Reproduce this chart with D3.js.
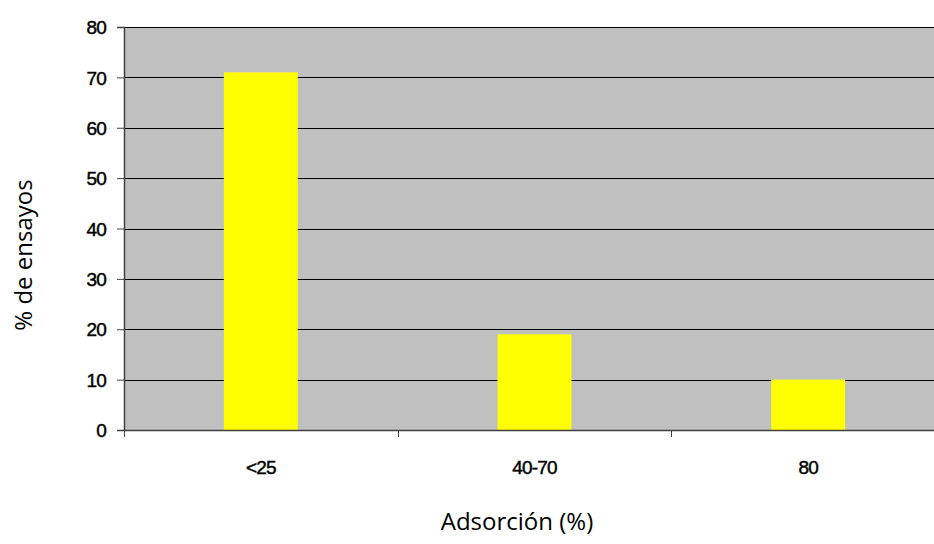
<!DOCTYPE html>
<html><head><meta charset="utf-8">
<script src="https://cdn.jsdelivr.net/npm/d3@7"></script>
<style>body{margin:0;background:#fff}</style>
</head><body>
<svg id="c" width="934" height="544"></svg>
<script>
const categories = ["<25", "40-70", "80"];
const values = [71, 19, 10];
const yTicks = [0, 10, 20, 30, 40, 50, 60, 70, 80];

const svg = d3.select("#c");
const mLeft = 124, mTop = 27, mBottom = 430, mRight = 945;
const x = d3.scaleBand().domain(categories).range([mLeft, mRight]).paddingInner(0).paddingOuter(0);
const y = d3.scaleLinear().domain([0, 80]).range([mBottom, mTop]);
const font = "'Liberation Sans', Arial, sans-serif";
const tfont = "'Open Sans', 'Noto Sans', sans-serif";

svg.append("rect").attr("x", mLeft).attr("y", mTop).attr("width", mRight - mLeft).attr("height", mBottom - mTop).attr("fill", "#c0c0c0");

// gridlines
svg.append("g").selectAll("line").data(yTicks.filter(d => d > 0)).join("line")
  .attr("x1", mLeft).attr("x2", mRight).attr("y1", d => Math.round(y(d)) + 0.5).attr("y2", d => Math.round(y(d)) + 0.5)
  .attr("stroke", "#000").attr("stroke-width", 1);

// bars
const bw = x.bandwidth() * 0.27;
svg.append("g").selectAll("rect").data(values).join("rect")
  .attr("x", (d, i) => x(categories[i]) + x.bandwidth() / 2 - bw / 2)
  .attr("width", bw)
  .attr("y", d => y(d))
  .attr("height", d => mBottom - y(d))
  .attr("fill", "#ffff00");

// y axis
const ya = svg.append("g").attr("transform", `translate(${mLeft},0)`)
  .call(d3.axisLeft(y).tickValues(yTicks).tickSize(7).tickPadding(11));
ya.select(".domain").attr("stroke", "#404040").attr("stroke-width", 1.5);
ya.selectAll(".tick line").attr("stroke", "#404040");
ya.selectAll("text").attr("font-family", font).attr("font-size", 19).attr("fill", "#000")
  .attr("stroke", "#000").attr("stroke-width", 0.45)
  .attr("letter-spacing", -0.8).attr("dy", "0.35em");

// x axis
const xa = svg.append("g").attr("transform", `translate(0,${mBottom})`)
  .call(d3.axisBottom(x).tickSize(0).tickPadding(31));
xa.select(".domain").attr("stroke", "#404040").attr("stroke-width", 1.5);
xa.selectAll("text").attr("font-family", font).attr("font-size", 19).attr("fill", "#000")
  .attr("stroke", "#000").attr("stroke-width", 0.45)
  .attr("letter-spacing", -0.8);
// category boundary ticks
const bounds = categories.map(c => x(c)).concat([mRight]);
svg.append("g").selectAll("line").data(bounds).join("line")
  .attr("x1", d => Math.round(d) + 0.5).attr("x2", d => Math.round(d) + 0.5)
  .attr("y1", mBottom).attr("y2", mBottom + 7).attr("stroke", "#404040");

// titles
svg.append("text").attr("x", 517).attr("y", 530).attr("text-anchor", "middle")
  .attr("font-family", tfont).attr("font-size", 24).text("Adsorción (%)");
svg.append("text").attr("transform", "translate(32,255) rotate(-90)").attr("text-anchor", "middle")
  .attr("font-family", tfont).attr("font-size", 24).text("% de ensayos");
</script>
</body></html>
